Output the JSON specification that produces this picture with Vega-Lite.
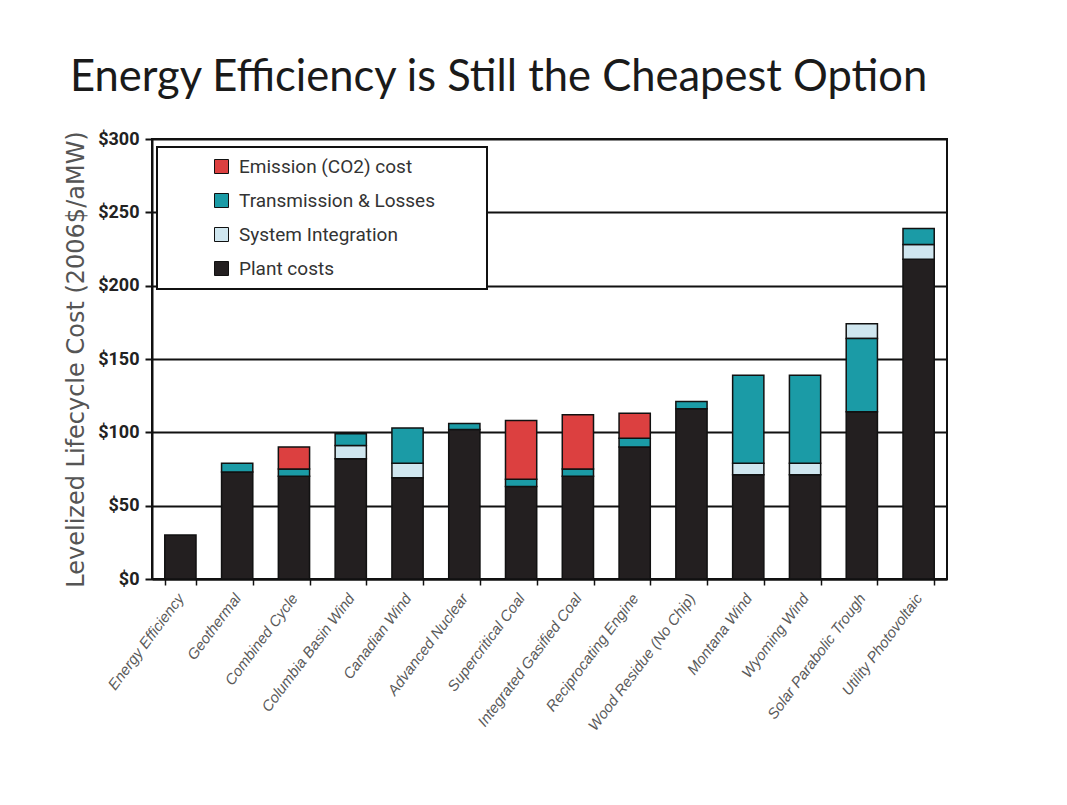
{
  "$schema": "https://vega.github.io/schema/vega-lite/v6.json",
  "autosize": {"type": "none"},
  "width": 795,
  "height": 440,
  "padding": {"left": 152, "top": 139, "right": 120, "bottom": 226},
  "background": "white",
  "title": {
    "text": "Energy Efficiency is Still the Cheapest Option",
    "anchor": "start",
    "frame": "group",
    "dx": -82,
    "offset": -4,
    "baseline": "alphabetic",
    "font": "Lato",
    "fontSize": 43.5,
    "fontWeight": "normal",
    "color": "#1a1a1a"
  },
  "data": {
    "values": [
      {"tech": "Energy Efficiency", "component": "Plant costs", "cost": 30},
      {"tech": "Geothermal", "component": "Plant costs", "cost": 73},
      {"tech": "Geothermal", "component": "Transmission & Losses", "cost": 6},
      {"tech": "Combined Cycle", "component": "Plant costs", "cost": 70},
      {"tech": "Combined Cycle", "component": "Transmission & Losses", "cost": 5},
      {"tech": "Combined Cycle", "component": "Emission (CO2) cost", "cost": 15},
      {"tech": "Columbia Basin Wind", "component": "Plant costs", "cost": 82},
      {"tech": "Columbia Basin Wind", "component": "System Integration", "cost": 9},
      {"tech": "Columbia Basin Wind", "component": "Transmission & Losses", "cost": 8},
      {"tech": "Canadian Wind", "component": "Plant costs", "cost": 69},
      {"tech": "Canadian Wind", "component": "System Integration", "cost": 10},
      {"tech": "Canadian Wind", "component": "Transmission & Losses", "cost": 24},
      {"tech": "Advanced Nuclear", "component": "Plant costs", "cost": 102},
      {"tech": "Advanced Nuclear", "component": "Transmission & Losses", "cost": 4},
      {"tech": "Supercritical Coal", "component": "Plant costs", "cost": 63},
      {"tech": "Supercritical Coal", "component": "Transmission & Losses", "cost": 5},
      {"tech": "Supercritical Coal", "component": "Emission (CO2) cost", "cost": 40},
      {"tech": "Integrated Gasified Coal", "component": "Plant costs", "cost": 70},
      {"tech": "Integrated Gasified Coal", "component": "Transmission & Losses", "cost": 5},
      {"tech": "Integrated Gasified Coal", "component": "Emission (CO2) cost", "cost": 37},
      {"tech": "Reciprocating Engine", "component": "Plant costs", "cost": 90},
      {"tech": "Reciprocating Engine", "component": "Transmission & Losses", "cost": 6},
      {"tech": "Reciprocating Engine", "component": "Emission (CO2) cost", "cost": 17},
      {"tech": "Wood Residue (No Chip)", "component": "Plant costs", "cost": 116},
      {"tech": "Wood Residue (No Chip)", "component": "Transmission & Losses", "cost": 5},
      {"tech": "Montana Wind", "component": "Plant costs", "cost": 71},
      {"tech": "Montana Wind", "component": "System Integration", "cost": 8},
      {"tech": "Montana Wind", "component": "Transmission & Losses", "cost": 60},
      {"tech": "Wyoming Wind", "component": "Plant costs", "cost": 71},
      {"tech": "Wyoming Wind", "component": "System Integration", "cost": 8},
      {"tech": "Wyoming Wind", "component": "Transmission & Losses", "cost": 60},
      {"tech": "Solar Parabolic Trough", "component": "Plant costs", "cost": 114},
      {"tech": "Solar Parabolic Trough", "component": "System Integration", "cost": 10},
      {"tech": "Solar Parabolic Trough", "component": "Transmission & Losses", "cost": 50},
      {"tech": "Utility Photovoltaic", "component": "Plant costs", "cost": 218},
      {"tech": "Utility Photovoltaic", "component": "System Integration", "cost": 10},
      {"tech": "Utility Photovoltaic", "component": "Transmission & Losses", "cost": 11}
    ]
  },
  "transform": [
    {"calculate": "datum.tech === 'Solar Parabolic Trough' && datum.component === 'System Integration' ? 2.5 : indexof(['Plant costs', 'System Integration', 'Transmission & Losses', 'Emission (CO2) cost'], datum.component)", "as": "stack_rank"}
  ],
  "mark": {"type": "bar", "stroke": "#111", "strokeWidth": 1.5},
  "encoding": {
    "x": {
      "field": "tech",
      "type": "nominal",
      "sort": null,
      "scale": {"paddingInner": 0.45, "paddingOuter": 0.225},
      "axis": {
        "title": null,
        "labelAngle": -53,
        "labelFont": "Liberation Sans",
        "labelFontStyle": "italic",
        "labelFontSize": 15,
        "labelColor": "#5a5a5a",
        "labelPadding": 10,
        "tickBand": "extent",
        "tickSize": 6,
        "tickWidth": 1.5,
        "tickColor": "#111",
        "domainColor": "#111",
        "domainWidth": 2,
        "grid": false
      }
    },
    "y": {
      "field": "cost",
      "type": "quantitative",
      "aggregate": "sum",
      "scale": {"domain": [0, 300]},
      "axis": {
        "title": "Levelized Lifecycle Cost (2006$/aMW)",
        "titleFont": "DejaVu Sans",
        "titleFontSize": 24,
        "titleFontWeight": "normal",
        "titleColor": "#555",
        "titleX": -76,
        "titleY": 220,
        "titleAlign": "center",
        "titleBaseline": "middle",
        "values": [0, 50, 100, 150, 200, 250, 300],
        "format": "$,.0f",
        "labelFont": "Roboto",
        "labelFontWeight": "bold",
        "labelFontSize": 18,
        "labelColor": "#222",
        "labelPadding": 6,
        "tickSize": 7,
        "tickWidth": 2,
        "tickColor": "#111",
        "domainColor": "#111",
        "domainWidth": 2,
        "grid": true,
        "gridColor": "#111",
        "gridWidth": 2,
        "gridOpacity": 1
      }
    },
    "order": {"field": "stack_rank", "type": "quantitative", "sort": "ascending"},
    "color": {
      "field": "component",
      "type": "nominal",
      "sort": ["Emission (CO2) cost", "Transmission & Losses", "System Integration", "Plant costs"],
      "scale": {
        "range": ["#dc4040", "#1b9ba6", "#cfe6ef", "#231f20"]
      },
      "legend": {
        "title": null,
        "orient": "none",
        "legendX": 5,
        "legendY": 8,
        "fillColor": "white",
        "strokeColor": "#111",
        "padding": 10,
        "symbolOffset": 45,
        "symbolType": "square",
        "symbolSize": 196,
        "symbolStrokeColor": "#111",
        "symbolStrokeWidth": 1,
        "labelFont": "Roboto",
        "labelFontSize": 19,
        "labelColor": "#333",
        "labelOffset": 8,
        "rowPadding": 14,
        "labelLimit": 400,
        "labelExpr": "datum.label + '\u2800\u2800\u2800'"
      }
    }
  },
  "config": {
    "view": {"stroke": "#111", "strokeWidth": 2},
    "legend": {"strokeWidth": 2}
  }
}
